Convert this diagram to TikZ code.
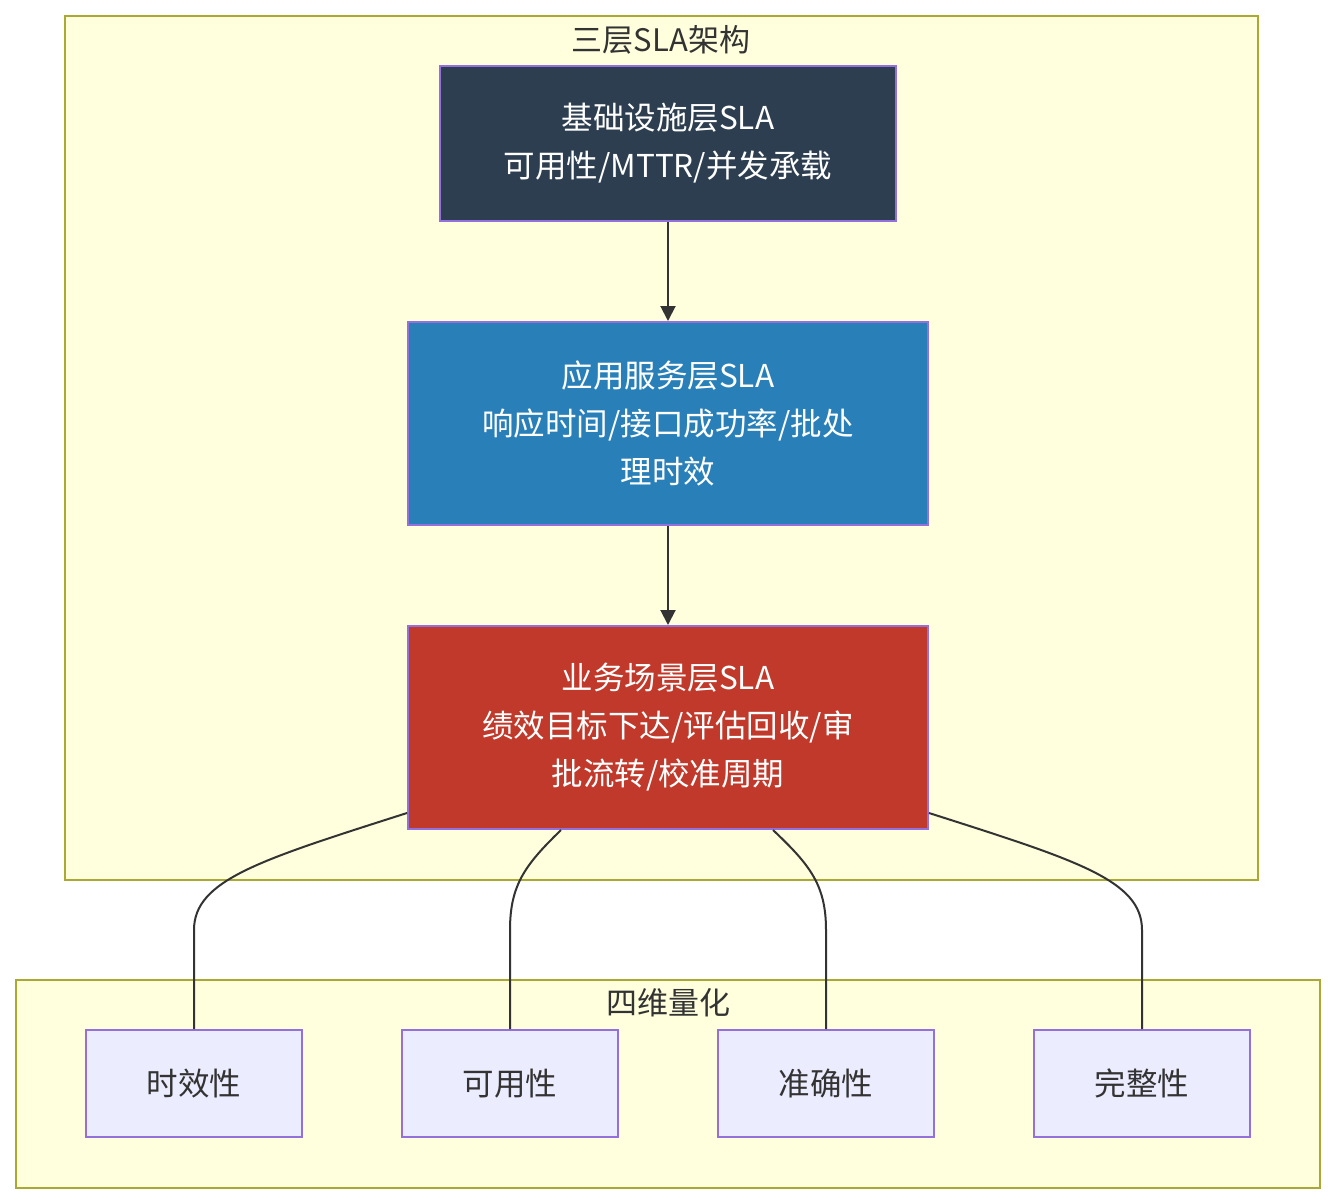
\documentclass[tikz,border=0pt]{standalone}
\usepackage{fontspec}
\setmainfont{Noto Sans CJK SC}
\usetikzlibrary{arrows.meta,calc}
\definecolor{clfill}{HTML}{FFFFDE}
\definecolor{clstroke}{HTML}{AAAA33}
\definecolor{nstroke}{HTML}{9370DB}
\definecolor{nfill}{HTML}{ECECFF}
\definecolor{darkA}{HTML}{2C3E50}
\definecolor{blueB}{HTML}{2980B9}
\definecolor{redC}{HTML}{C0392B}
\definecolor{txt}{HTML}{333333}
\definecolor{edge}{HTML}{333333}
\begin{document}
\begin{tikzpicture}[x=1pt,y=-1pt,
  cluster/.style={draw=clstroke,fill=clfill,line width=2pt},
  ctitle/.style={text=txt,font=\fontsize{31}{36}\selectfont,inner sep=0pt},
  layer/.style={draw=nstroke,line width=2pt,text=white,align=center,inner sep=0pt,
    font=\fontsize{31.5}{48}\selectfont},
  metric/.style={draw=nstroke,fill=nfill,line width=2pt,text=txt,inner sep=0pt,
    minimum width=216pt,minimum height=107pt,font=\fontsize{31.5}{36}\selectfont},
  flow/.style={draw=edge,line width=2pt,-{Triangle[length=15pt,width=15pt]}},
  link/.style={draw=edge,line width=2pt}]
\useasboundingbox (0,0) rectangle (1336,1204);
\fill[white] (0,0) rectangle (1336,1204);
% clusters
\draw[cluster] (65,16) rectangle (1258,880);
\node[ctitle] (t1) at (661,40) {三层SLA架构};
\draw[cluster] (16,980) rectangle (1320,1188);
\node[ctitle] (t2) at (668,1003) {四维量化};
% layer nodes
\node[layer,fill=darkA,minimum width=456pt,minimum height=155pt] (A) at (668,143.5)
  {基础设施层SLA\\可用性/MTTR/并发承载};
\node[layer,fill=blueB,minimum width=520pt,minimum height=203pt] (B) at (668,423.5)
  {应用服务层SLA\\响应时间/接口成功率/批处\\理时效};
\node[layer,fill=redC,minimum width=520pt,minimum height=203pt] (C) at (668,727.5)
  {业务场景层SLA\\绩效目标下达/评估回收/审\\批流转/校准周期};
% metric nodes
\node[metric] (m1) at (194,1083.5) {时效性};
\node[metric] (m2) at (510,1083.5) {可用性};
\node[metric] (m3) at (826,1083.5) {准确性};
\node[metric] (m4) at (1142,1083.5) {完整性};
% arrows
\draw[flow] (A.south) -- (B.north);
\draw[flow] (B.north |- B.south) -- (C.north);
% links
\coordinate (c1) at ($(C.south west)+(0,-17)$);
\coordinate (c2) at ($(C.south)+(-107,0)$);
\coordinate (c3) at ($(C.south)+(105,0)$);
\coordinate (c4) at ($(C.south east)+(0,-17)$);
\draw[link] (c1) .. controls (260,860) and (194,880) .. (194,930) -- (m1.north);
\draw[link] (c2) .. controls (525,865) and (510,885) .. (510,930) -- (m2.north);
\draw[link] (c3) .. controls (810,865) and (826,885) .. (826,930) -- (m3.north);
\draw[link] (c4) .. controls (1076,860) and (1142,880) .. (1142,930) -- (m4.north);
\end{tikzpicture}
\end{document}
